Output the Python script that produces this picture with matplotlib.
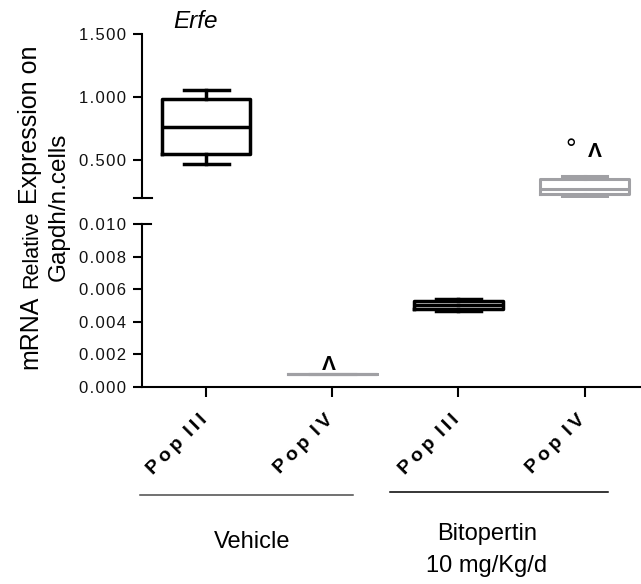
import matplotlib
matplotlib.use('Agg')
import matplotlib.pyplot as plt
from matplotlib.lines import Line2D
from matplotlib.transforms import ScaledTranslation

W, H = 641, 584
plt.rcParams['font.family'] = ['Liberation Sans', 'DejaVu Sans']

# ---------------- data ----------------
categories = ['Pop III', 'Pop IV', 'Pop III', 'Pop IV']
groups = ['Vehicle', 'Bitopertin', '10 mg/Kg/d']
whislo = [0.469, 0.0008, 0.00465, 0.209]
q1 = [0.546, 0.0008, 0.00475, 0.229]
med = [0.765, 0.0008, 0.00503, 0.266]
q3 = [0.986, 0.0008, 0.00529, 0.350]
whishi = [1.060, 0.0008, 0.00541, 0.375]
box_colors = ['black', '#a0a0a4', 'black', '#a0a0a4']
top_ticks = [0.5, 1.0, 1.5]
bottom_ticks = [0.000, 0.002, 0.004, 0.006, 0.008, 0.010]
title = 'Erfe'
# ---------------------------------------


def fx(px):
    return px / W


def fy(py):
    return 1 - py / H


def spaced(s):
    return '\u200a'.join(s)


def spaced_cat(c):
    words = c.split(' ')
    return ' \u2009'.join('\u2009'.join(w) for w in words)


fig = plt.figure(figsize=(W / 100, H / 100), dpi=100)

ax_top = fig.add_axes([fx(142), fy(197.7), 498 / W, (197.7 - 34.3) / H])
ax_bot = fig.add_axes([fx(142), fy(386.7), 498 / W, (386.7 - 224) / H])

for ax in (ax_top, ax_bot):
    for i in range(len(categories)):
        c = box_colors[i]
        lw = 2.5 if c == 'black' else 2.2
        st = [dict(med=med[i], q1=q1[i], q3=q3[i], whislo=whislo[i],
                   whishi=whishi[i], fliers=[])]
        ax.bxp(st, positions=[i + 1], widths=0.7, capwidths=0.36,
               showfliers=False, manage_ticks=False,
               boxprops=dict(color=c, linewidth=lw),
               whiskerprops=dict(color=c, linewidth=lw),
               capprops=dict(color=c, linewidth=lw),
               medianprops=dict(color=c, linewidth=lw))
    ax.set_xlim(0.49, 4.44)
    ax.spines['top'].set_visible(False)
    ax.spines['right'].set_visible(False)
    ax.spines['left'].set_linewidth(1.5)
    ax.spines['bottom'].set_linewidth(1.5)
    ax.tick_params(axis='y', length=6.5, width=1.5, pad=5, labelsize=12,
                   labelcolor='#111111')

ax_top.set_ylim(0.2, 1.5)
ax_top.spines['bottom'].set_visible(False)
ax_top.set_xticks([])
ax_top.set_yticks(top_ticks)
ax_top.set_yticklabels([spaced(f'{v:.3f}') for v in top_ticks])

ax_bot.set_ylim(0, 0.010)
ax_bot.set_yticks(bottom_ticks)
ax_bot.set_yticklabels([spaced(f'{v:.3f}') for v in bottom_ticks])
ax_bot.set_xticks(range(1, len(categories) + 1))
ax_bot.set_xticklabels([spaced_cat(c) for c in categories], rotation=45,
                       ha='right', va='top', rotation_mode='anchor',
                       fontweight='bold', fontsize=14)
ax_bot.tick_params(axis='x', length=7, width=1.5, pad=9)
shift = ScaledTranslation(-8 / 100, -2 / 100, fig.dpi_scale_trans)
for lab in ax_bot.get_xticklabels():
    lab.set_transform(lab.get_transform() + shift)

# significance marks
ax_bot.text(1.97, 0.00103, 'Λ', ha='center', va='baseline',
            fontsize=15, fontweight='bold')
ax_top.text(3.889, 0.525, '°', ha='center', va='baseline', fontsize=19)
ax_top.text(4.08, 0.525, 'Λ', ha='center', va='baseline',
            fontsize=15, fontweight='bold')

# axis break marks
fig.add_artist(Line2D([fx(134), fx(152)], [fy(197.7)] * 2, lw=1.5, color='black'))
fig.add_artist(Line2D([fx(142), fx(151)], [fy(224)] * 2, lw=1.5, color='black'))

# title
fig.text(fx(195), fy(28), title, ha='center', va='baseline',
         fontsize=17.5, fontstyle='italic')

# group lines and labels
fig.add_artist(Line2D([fx(140), fx(353)], [fy(495)] * 2, lw=1.1, color='#4a4a4a'))
fig.add_artist(Line2D([fx(390), fx(608)], [fy(492)] * 2, lw=1.1, color='black'))
fig.text(fx(252), fy(548), groups[0], ha='center', va='baseline', fontsize=17)
fig.text(fx(487), fy(540), groups[1], ha='center', va='baseline', fontsize=17)
fig.text(fx(487), fy(572), groups[2], ha='center', va='baseline', fontsize=17)

# y label (two lines, "Relative" smaller)
fig.canvas.draw()
renderer = fig.canvas.get_renderer()
pieces = [('mRNA', 18), ('Relative', 15.5), ('Expression on', 18)]
texts = []
for s, fs in pieces:
    t = fig.text(0, 0, s, rotation=90, rotation_mode='anchor', ha='left',
                 va='baseline', fontsize=fs)
    texts.append(t)
fig.canvas.draw()
lens = [t.get_window_extent(renderer).height for t in texts]
gap = 0.278 * 18 * 100 / 72
total = sum(lens) + 2 * gap
start = 207 + total / 2   # pixel from top (bottom end of text)
pos = start
for t, L in zip(texts, lens):
    t.set_position((fx(37), fy(pos)))
    pos -= L + gap
t2 = fig.text(fx(65), fy(207), 'Gapdh/n.cells', rotation=90,
              rotation_mode='anchor', ha='center', va='baseline', fontsize=17.5)

fig.savefig('out.png', dpi=100)
